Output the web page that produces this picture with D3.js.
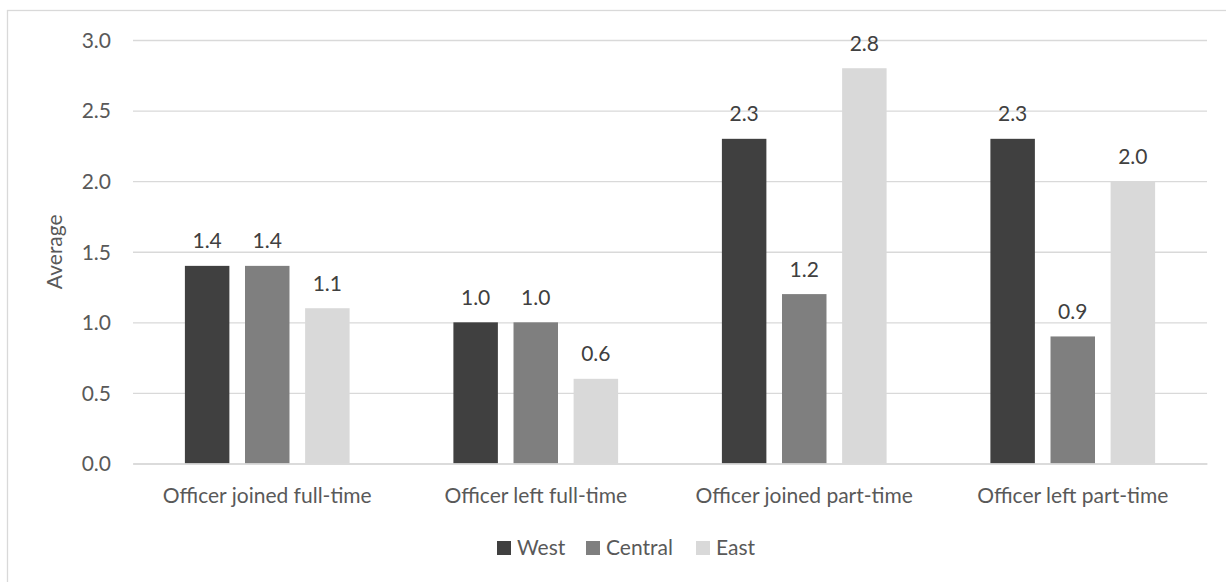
<!DOCTYPE html>
<html>
<head>
<meta charset="utf-8">
<script src="https://cdn.jsdelivr.net/npm/d3@7"></script>
<style>
  html, body { margin: 0; padding: 0; background: #fff; }
  svg { display: block; }
  text { font-family: Lato, "Liberation Sans", sans-serif; fill: #595959; }
</style>
</head>
<body>
<svg id="chart" width="1226" height="582"></svg>
<script>
// Average number of officer changes by region
const categories = ["Officer joined full-time", "Officer left full-time", "Officer joined part-time", "Officer left part-time"];
const seriesNames = ["West", "Central", "East"];
const west = [1.4, 1.0, 2.3, 2.3];
const central = [1.4, 1.0, 1.2, 0.9];
const east = [1.1, 0.6, 2.8, 2.0];
const yTicks = [0, 0.5, 1.0, 1.5, 2.0, 2.5, 3.0];
const colors = ["#404040", "#7f7f7f", "#d9d9d9"];

const seriesValues = [west, central, east];
const rows = categories.map((c, i) => ({
  category: c,
  values: seriesNames.map((s, j) => ({ series: s, value: seriesValues[j][i] }))
}));

const FS = 21;
const svg = d3.select("#chart");
const W = 1226, H = 582;
const plot = { left: 133, right: 1207, top: 40, bottom: 463.5 };

// chart frame
svg.append("rect")
  .attr("x", 7.5).attr("y", 10.5)
  .attr("width", W + 10).attr("height", H + 10)
  .attr("fill", "none").attr("stroke", "#d9d9d9").attr("stroke-width", 1.3);

const x0 = d3.scaleBand().domain(categories).range([plot.left, plot.right]).paddingInner(0).paddingOuter(0);
const groupW = 164.7;
const x1 = d3.scaleBand().domain(seriesNames).range([0, groupW]).paddingInner(0.26).paddingOuter(0);
const y = d3.scaleLinear().domain([0, 3]).range([plot.bottom, plot.top]);
const color = d3.scaleOrdinal().domain(seriesNames).range(colors);

// gridlines and y labels
const yAxis = d3.axisLeft(y).tickValues(yTicks).tickFormat(d3.format(".1f"))
  .tickSize(-(plot.right - plot.left)).tickPadding(22);
const gy = svg.append("g").attr("transform", `translate(${plot.left},0)`).call(yAxis);
gy.select(".domain").remove();
gy.selectAll(".tick line").attr("stroke", "#d9d9d9").attr("stroke-width", 1.3);
gy.selectAll(".tick text")
  .attr("font-size", FS).style("font-family", "Lato, sans-serif").attr("fill", "#595959")
  .attr("dy", "0.35em");

// bars
const groups = svg.append("g").selectAll("g").data(rows).join("g")
  .attr("transform", d => `translate(${x0(d.category) + (x0.bandwidth() - groupW) / 2},0)`);

groups.selectAll("rect").data(d => d.values).join("rect")
  .attr("x", d => x1(d.series))
  .attr("width", x1.bandwidth())
  .attr("y", d => y(d.value))
  .attr("height", d => y(0) - y(d.value))
  .attr("fill", d => color(d.series));

groups.selectAll("text.val").data(d => d.values).join("text")
  .attr("class", "val")
  .attr("x", d => x1(d.series) + x1.bandwidth() / 2)
  .attr("y", d => y(d.value) - 17.5)
  .attr("text-anchor", "middle")
  .attr("font-size", FS)
  .style("fill", "#404040")
  .text(d => d3.format(".1f")(d.value));

// category axis
const xAxis = d3.axisBottom(x0).tickSize(0).tickPadding(0);
const gx = svg.append("g").attr("transform", `translate(0,${plot.bottom})`).call(xAxis);
gx.select(".domain").attr("stroke", "#d9d9d9").attr("stroke-width", 1.3);
gx.selectAll(".tick text")
  .attr("font-size", FS).style("font-family", "Lato, sans-serif").attr("fill", "#595959")
  .attr("y", 39).attr("dy", null);

// y-axis title
svg.append("text")
  .attr("transform", `translate(62,${(plot.top + plot.bottom) / 2}) rotate(-90)`)
  .attr("text-anchor", "middle")
  .attr("font-size", FS)
  .text("Average");

// legend
const legendItems = [{ name: "West", x: 497 }, { name: "Central", x: 586 }, { name: "East", x: 696 }];
const lg = svg.append("g").selectAll("g").data(legendItems).join("g")
  .attr("transform", d => `translate(${d.x},541)`);
lg.append("rect").attr("width", 14).attr("height", 14).attr("fill", d => color(d.name));
lg.append("text").attr("x", 20).attr("y", 14).attr("font-size", FS).text(d => d.name);
</script>
</body>
</html>
